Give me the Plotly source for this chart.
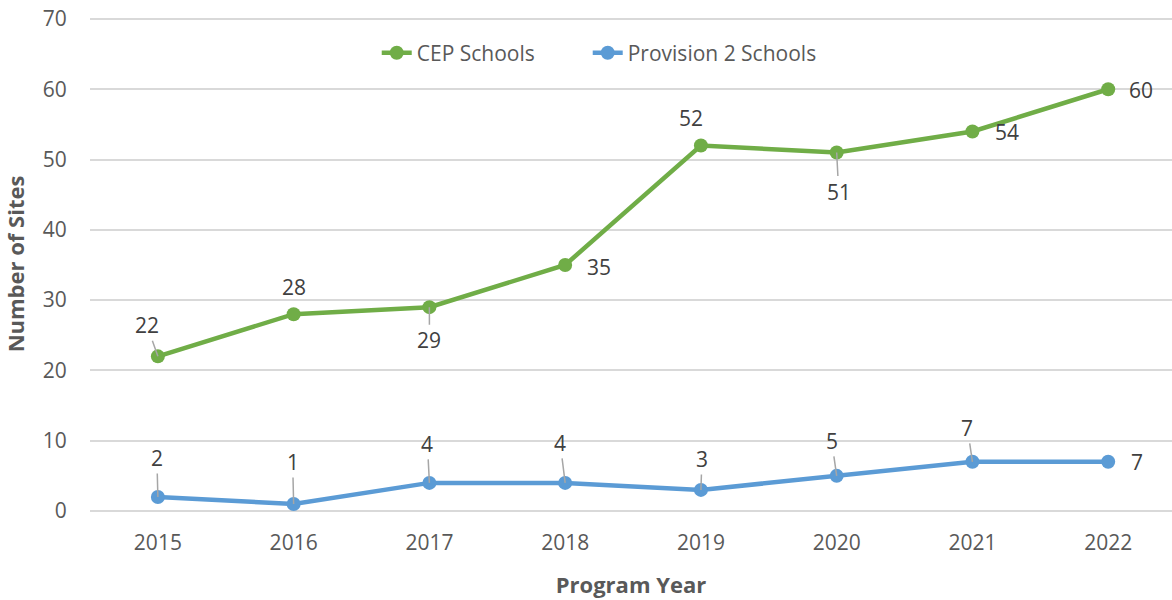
import plotly.graph_objects as go

years = ["2015", "2016", "2017", "2018", "2019", "2020", "2021", "2022"]
cep_schools = [22, 28, 29, 35, 52, 51, 54, 60]
provision2_schools = [2, 1, 4, 4, 3, 5, 7, 7]

# label placement (pixel offsets from the point) and whether a leader line is shown
cep_label_offsets = [(-11, -31, True), (0, -27, False), (0, 33, True), (34, 2, False),
                     (-10, -27, False), (2, 39, True), (35, 1, False), (33, 1, False)]
prov_label_offsets = [(-1, -39, True), (-1, -42, True), (-2, -39, True), (-5, -40, True),
                      (1, -31, True), (-5, -35, True), (-5, -34, True), (29, 0, False)]

GREEN = "#70AD47"
BLUE = "#5B9BD5"
FONT = "Open Sans"

fig = go.Figure()
fig.add_trace(go.Scatter(x=years, y=cep_schools, name="CEP Schools", mode="lines+markers",
                         line=dict(color=GREEN, width=4.5), marker=dict(color=GREEN, size=14),
                         legendwidth=166))
fig.add_trace(go.Scatter(x=years, y=provision2_schools, name="Provision 2 Schools", mode="lines+markers",
                         line=dict(color=BLUE, width=4.5), marker=dict(color=BLUE, size=14),
                         legendwidth=200))

annotations = []
for series, offsets in ((cep_schools, cep_label_offsets), (provision2_schools, prov_label_offsets)):
    for i, (v, (dx, dy, leader)) in enumerate(zip(series, offsets)):
        if leader:
            annotations.append(dict(x=i, y=v, xref="x", yref="y", text=str(v), showarrow=True,
                                    arrowhead=0, arrowwidth=1.5, arrowcolor="#A6A6A6",
                                    ax=dx, ay=dy, standoff=0,
                                    font=dict(family=FONT, size=21, color="#404040")))
        else:
            annotations.append(dict(x=i, y=v, xref="x", yref="y", text=str(v), showarrow=False,
                                    xshift=dx, yshift=-dy,
                                    font=dict(family=FONT, size=21, color="#404040")))

fig.update_layout(
    width=1172, height=600,
    margin=dict(l=90, r=0, t=17, b=89),
    plot_bgcolor="white", paper_bgcolor="white",
    font=dict(family=FONT, size=21, color="#595959"),
    showlegend=True,
    legend=dict(orientation="h", x=0.265, y=0.927, xanchor="left", yanchor="middle",
                font=dict(family=FONT, size=21, color="#595959"),
                bgcolor="white", tracegroupgap=0),
    annotations=annotations,
    xaxis=dict(type="category", range=[-0.5, 7.47], showgrid=False, showline=False,
               automargin=False,
               ticks="outside", ticklen=13, tickcolor="rgba(0,0,0,0)",
               tickfont=dict(family=FONT, size=21, color="#595959"),
               title=dict(text="<b>Program Year</b>", standoff=22,
                          font=dict(family=FONT, size=22, color="#595959"))),
    yaxis=dict(range=[0, 70.28], tick0=0, dtick=10, showgrid=True, gridcolor="#D9D9D9", gridwidth=1.5,
               zeroline=True, zerolinecolor="#D9D9D9", zerolinewidth=1.5, showline=False,
               automargin=False, ticklabeloverflow="allow",
               ticks="outside", ticklen=18, tickcolor="rgba(0,0,0,0)",
               tickfont=dict(family=FONT, size=21, color="#595959"),
               title=dict(text="<b>Number of Sites</b>", standoff=18,
                          font=dict(family=FONT, size=22, color="#595959"))),
)

fig.write_html("out.html", config={"displayModeBar": False},
               post_script="document.body.style.margin='0';document.body.style.overflow='hidden';")
